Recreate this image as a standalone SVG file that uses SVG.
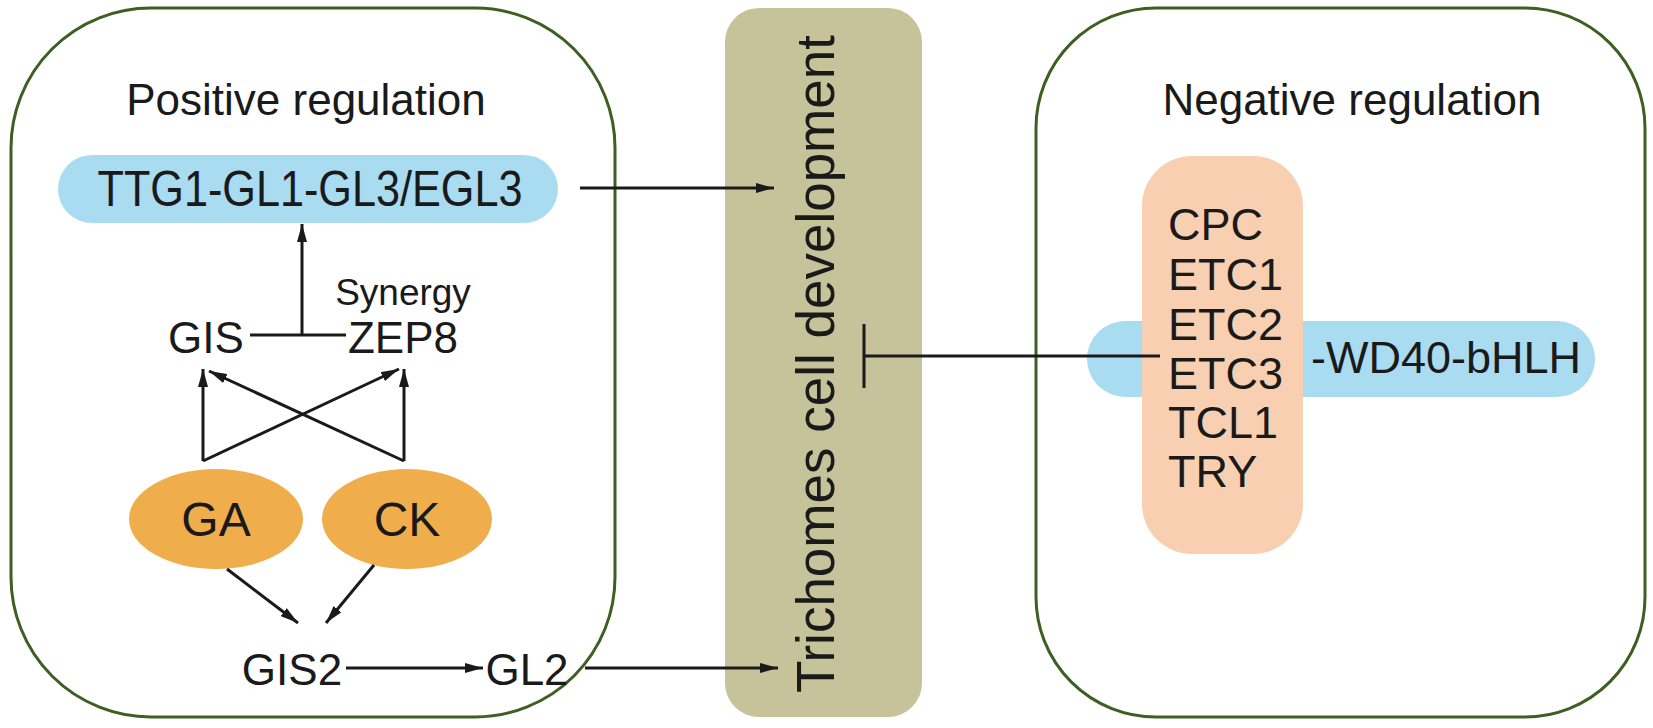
<svg xmlns="http://www.w3.org/2000/svg" width="1653" height="728" viewBox="0 0 1653 728">
<defs>
<style>
.panel{fill:#ffffff;stroke:#3e5f22;stroke-width:3}
.t{font-family:"Liberation Sans",Arial,sans-serif;fill:#1a1a1a}
.c{stroke:#1a1a1a;stroke-width:3;fill:none}
.blue{fill:#a9dbf1}
.orange{fill:#f0ad4c}
.peach{fill:#f8cfb0}
.khaki{fill:#c6c29a}
</style>
<marker id="ah" viewBox="0 0 18 10" refX="18" refY="5" markerWidth="18" markerHeight="10" markerUnits="userSpaceOnUse" orient="auto">
<path d="M0,0 L18,5 L0,10 Z" fill="#1a1a1a"/>
</marker>
</defs>
<rect width="1653" height="728" fill="#ffffff"/>

<g id="positive-panel">
<rect class="panel" x="11" y="8" width="604" height="709" rx="140" ry="140"/>
<text class="t" x="306" y="115" font-size="44" text-anchor="middle">Positive regulation</text>
</g>

<g id="negative-panel">
<rect class="panel" x="1036" y="8" width="609" height="709" rx="120" ry="120"/>
<text class="t" x="1352" y="115" font-size="44" text-anchor="middle">Negative regulation</text>
</g>

<g id="trichome-bar">
<rect class="khaki" x="725" y="8" width="197" height="709" rx="34" ry="34"/>
<text class="t" transform="translate(834,364) rotate(-90)" font-size="53" text-anchor="middle">Trichomes cell development</text>
</g>

<g id="ttg1-complex">
<rect class="blue" x="58" y="155" width="500" height="68" rx="34" ry="34"/>
<text class="t" x="310" y="206" font-size="50" text-anchor="middle" textLength="425" lengthAdjust="spacingAndGlyphs">TTG1-GL1-GL3/EGL3</text>
</g>

<g id="wd40-bhlh">
<rect class="blue" x="1087" y="321" width="508" height="76" rx="38" ry="38"/>
<text class="t" x="1311" y="373" font-size="45">-WD40-bHLH</text>
</g>

<g id="repressors">
<rect class="peach" x="1142" y="156" width="161" height="398" rx="50" ry="50"/>
<text class="t" x="1168" y="240" font-size="45">CPC</text>
<text class="t" x="1168" y="290" font-size="45">ETC1</text>
<text class="t" x="1168" y="340" font-size="45">ETC2</text>
<text class="t" x="1168" y="389" font-size="45">ETC3</text>
<text class="t" x="1168" y="438" font-size="45">TCL1</text>
<text class="t" x="1168" y="487" font-size="45">TRY</text>
</g>

<g id="gis">
<text class="t" x="206" y="353" font-size="44" text-anchor="middle">GIS</text>
</g>
<g id="zep8">
<text class="t" x="403" y="353" font-size="44" text-anchor="middle">ZEP8</text>
</g>
<g id="synergy-label">
<text class="t" x="403" y="305" font-size="37" text-anchor="middle">Synergy</text>
</g>

<g id="ga">
<ellipse class="orange" cx="216" cy="519" rx="87" ry="50"/>
<text class="t" x="216" y="536" font-size="48" text-anchor="middle">GA</text>
</g>
<g id="ck">
<ellipse class="orange" cx="407" cy="519" rx="85" ry="50"/>
<text class="t" x="407" y="536" font-size="48" text-anchor="middle">CK</text>
</g>

<g id="gis2">
<text class="t" x="292" y="685" font-size="44" text-anchor="middle">GIS2</text>
</g>
<g id="gl2">
<text class="t" x="527" y="685" font-size="44" text-anchor="middle">GL2</text>
</g>

<g id="connectors">
<line class="c" x1="580" y1="188" x2="774" y2="188" marker-end="url(#ah)"/>
<line class="c" x1="585" y1="668" x2="778" y2="668" marker-end="url(#ah)"/>
<line class="c" x1="250" y1="335" x2="346" y2="335"/>
<line class="c" x1="302" y1="335" x2="302" y2="224" marker-end="url(#ah)"/>
<line class="c" x1="203" y1="461" x2="203" y2="369" marker-end="url(#ah)"/>
<line class="c" x1="404" y1="461" x2="404" y2="369" marker-end="url(#ah)"/>
<line class="c" x1="203" y1="461" x2="399" y2="369" marker-end="url(#ah)"/>
<line class="c" x1="404" y1="461" x2="209" y2="371" marker-end="url(#ah)"/>
<line class="c" x1="227" y1="569" x2="298" y2="623" marker-end="url(#ah)"/>
<line class="c" x1="374" y1="565" x2="326" y2="623" marker-end="url(#ah)"/>
<line class="c" x1="346" y1="668" x2="483" y2="668" marker-end="url(#ah)"/>
<line class="c" x1="1160" y1="356" x2="864" y2="356"/>
<line class="c" x1="864" y1="324" x2="864" y2="388"/>
</g>
</svg>
